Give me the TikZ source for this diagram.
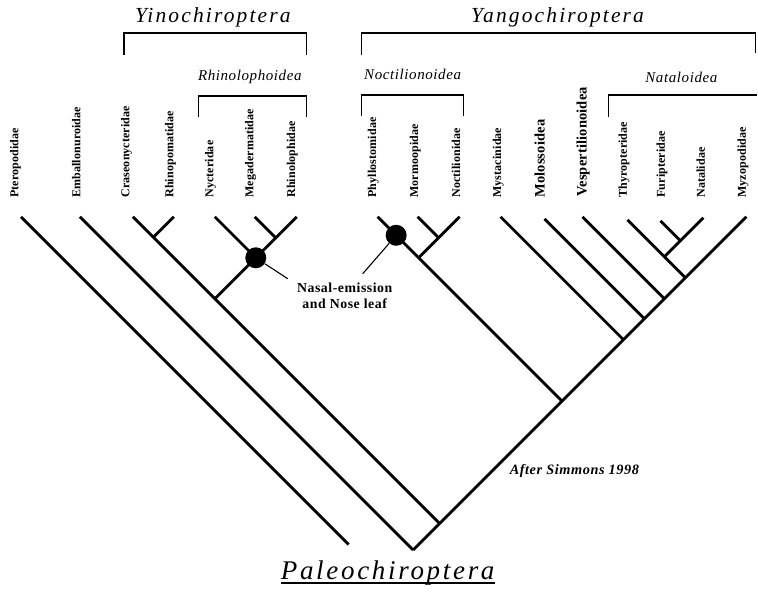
\documentclass[tikz,border=0pt]{standalone}
\usepackage{fontspec}
\setmainfont{Liberation Serif}
\newfontfamily\ttlfont{Liberation Serif}[LetterSpace=10]
\newfontfamily\grpfont{Liberation Serif}[LetterSpace=4]
\newfontfamily\tipfont{Liberation Serif}[LetterSpace=1]
\newfontfamily\notefont{Liberation Serif}[LetterSpace=4]
\begin{document}
\begin{tikzpicture}[x=1pt,y=-1pt,
  branch/.style={line width=2.8pt},
  brack/.style={line width=1.3pt},
  ptr/.style={line width=1.1pt},
  bdot/.style={circle,fill=black,inner sep=0pt,minimum size=21pt},
  tiplab/.style={rotate=90,anchor=base west,inner sep=0pt,font=\tipfont\bfseries\fontsize{12}{12}\selectfont},
  biglab/.style={tiplab,font=\tipfont\bfseries\fontsize{14.5}{14.5}\selectfont},
  ttl/.style={anchor=base,inner sep=0pt,font=\ttlfont\itshape\fontsize{21.5}{21.5}\selectfont},
  grp/.style={anchor=base,inner sep=0pt,font=\grpfont\itshape\fontsize{15}{15}\selectfont},
]
\fill[white] (0,0) rectangle (758,592);

% ---- tips
\coordinate (tP)  at (21,217);
\coordinate (tE)  at (80,217);
\coordinate (tC)  at (133,217);
\coordinate (tRp) at (174,217);
\coordinate (tN)  at (215,217);
\coordinate (tM)  at (255,217);
\coordinate (tRl) at (297,217);
\coordinate (tPh) at (378,217);
\coordinate (tMo) at (418,217);
\coordinate (tNo) at (460,217);
\coordinate (tMy) at (501,217);
\coordinate (tMol) at (545,219);
\coordinate (tV)  at (583,217);
\coordinate (tT)  at (628,220);
\coordinate (tF)  at (661,221);
\coordinate (tNa) at (704,218);
\coordinate (tMz) at (747,217);

% ---- junctions
\coordinate (eP)   at (349,545);
\coordinate (root) at (413.5,550.5);
\coordinate (jY)   at (440,524);
\coordinate (jRp)  at (153.5,237.5);
\coordinate (jRh)  at (215,299);
\coordinate (jM)   at (276,238);
\coordinate (jYg)  at (562.5,401.5);
\coordinate (jNo)  at (419,258);
\coordinate (jMo)  at (439,238);
\coordinate (jMy)  at (624,340);
\coordinate (jMol) at (645,319);
\coordinate (jV)   at (665,299);
\coordinate (jT)   at (686,278);
\coordinate (jNa)  at (665,257);
\coordinate (jF)   at (681,241);

% ---- branches
\draw[branch] (tP) -- (eP);
\draw[branch] (tE) -- (root);
\draw[branch] (root) -- (tMz);
\draw[branch] (tC) -- (jY);
\draw[branch] (tRp) -- (jRp);
\draw[branch] (tRl) -- (jRh);
\draw[branch] (tN) -- (256,258);
\draw[branch] (tM) -- (jM);
\draw[branch] (tPh) -- (jYg);
\draw[branch] (tNo) -- (jNo);
\draw[branch] (tMo) -- (jMo);
\draw[branch] (tMy) -- (jMy);
\draw[branch] (tMol) -- (jMol);
\draw[branch] (tV) -- (jV);
\draw[branch] (tT) -- (jT);
\draw[branch] (tNa) -- (jNa);
\draw[branch] (tF) -- (jF);

% ---- character dots and label
\node[bdot] (d1) at (256,258) {};
\node[bdot] (d2) at (396.5,235.5) {};
\coordinate (p1) at (288,279);
\coordinate (p2) at (363,274);
\draw[ptr] (d1) -- (p1);
\draw[ptr] (d2) -- (p2);
\node[align=center,inner sep=0pt,font=\notefont\bfseries\fontsize{13.8}{16}\selectfont] (nose) at (345,296.5) {Nasal-emission\\and Nose leaf};

% ---- tip labels
\node[tiplab] (lP)   at (18.5,198)  {Pteropodidae};
\node[tiplab] (lE)   at (80.5,198)  {Emballonuroidae};
\node[tiplab] (lC)   at (129.5,198) {Craseonycteridae};
\node[tiplab] (lRp)  at (173.5,198) {Rhinopomatidae};
\node[tiplab] (lN)   at (213.5,198) {Nycteridae};
\node[tiplab] (lM)   at (253.5,198) {Megadermatidae};
\node[tiplab] (lRl)  at (295.5,198) {Rhinolophidae};
\node[tiplab] (lPh)  at (376.5,198) {Phyllostomidae};
\node[tiplab] (lMo)  at (418.5,198) {Mormoopidae};
\node[tiplab] (lNo)  at (460.5,198) {Noctilionidae};
\node[tiplab] (lMy)  at (501.5,198) {Mystacinidae};
\node[biglab] (lMol) at (545,198)   {Molossoidea};
\node[biglab] (lV)   at (587,197)   {Vespertilionoidea};
\node[tiplab] (lT)   at (627.5,198) {Thyropteridae};
\node[tiplab] (lF)   at (665.5,198) {Furipteridae};
\node[tiplab] (lNa)  at (705.5,198) {Natalidae};
\node[tiplab] (lMz)  at (746.5,198) {Myzopodidae};

% ---- brackets
\draw[brack] (124,55) -- (124,33) -- (307,33) -- (307,55);
\draw[brack] (362,55) -- (362,33) -- (756,33) -- (756,53);
\draw[brack] (199,117) -- (199,96) -- (307,96) -- (307,117);
\draw[brack] (362,116) -- (362,95) -- (464,95) -- (464,116);
\draw[brack] (609,117) -- (609,95) -- (758,95);

% ---- group titles
\node[ttl] (yino)  at (213,23) {Yinochiroptera};
\node[ttl] (yango) at (558,23) {Yangochiroptera};
\node[grp] (rhino) at (250,81) {Rhinolophoidea};
\node[grp] (noct)  at (413,80) {Noctilionoidea};
\node[grp] (natal) at (682,83) {Nataloidea};

\node[anchor=base west,inner sep=0pt,font=\notefont\bfseries\itshape\fontsize{14.3}{14.3}\selectfont] (after) at (510,475) {After Simmons 1998};

\node[anchor=base,inner sep=0pt,font=\ttlfont\itshape\fontsize{27}{27}\selectfont] (pal) at (388,580) {Paleochiroptera};
\draw[line width=1.4pt] ([yshift=-3.5pt]pal.base west) -- ([yshift=-3.5pt]pal.base east);
\end{tikzpicture}
\end{document}
